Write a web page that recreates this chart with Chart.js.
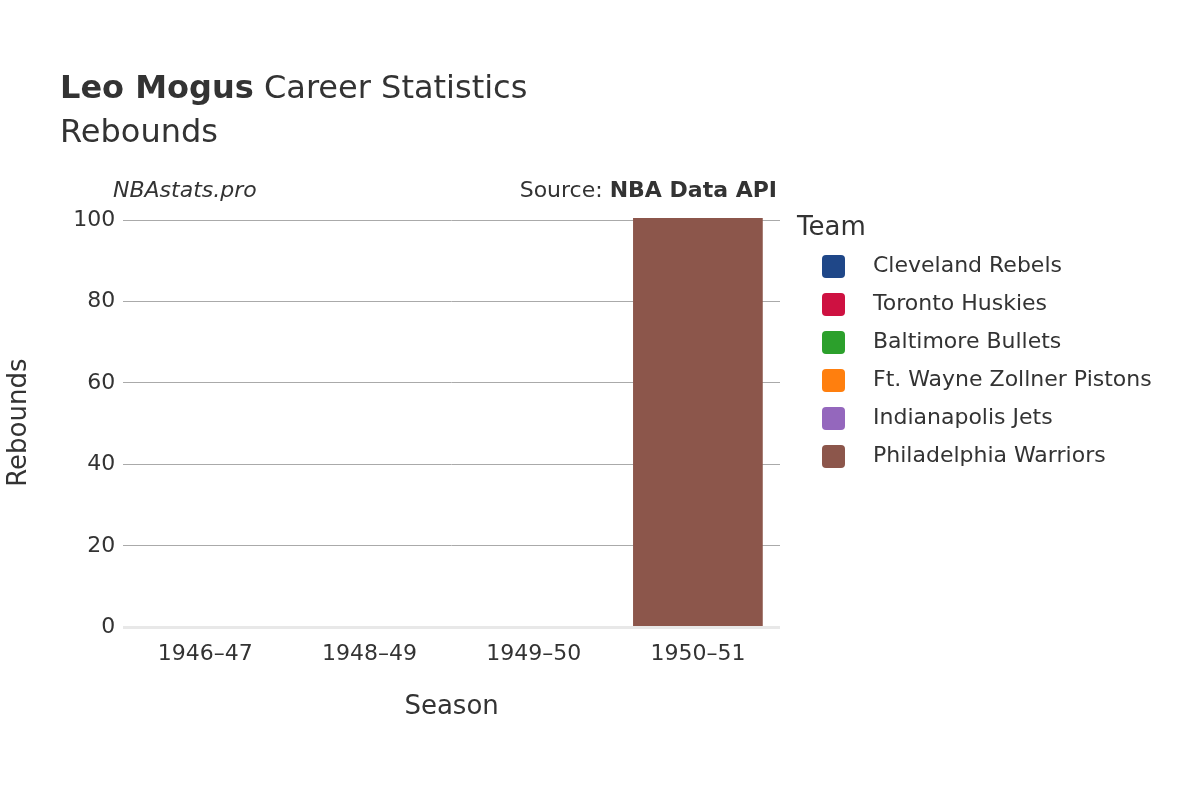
<!DOCTYPE html>
<html>
<head>
<meta charset="utf-8">
<script src="https://cdn.jsdelivr.net/npm/chart.js@4"></script>
<style>
  body { margin: 0; background: #fff; font-family: "DejaVu Sans", sans-serif; color: #333; }
  #wrap { position: relative; width: 1200px; height: 800px; }
  #chart { position: absolute; left: 0; top: 0; }
  .t { position: absolute; white-space: nowrap; }
  .leg { position: absolute; left: 822px; font-size: 22px; }
  .leg span { display: inline-block; width: 23px; height: 23px; border-radius: 4px; vertical-align: middle; margin-right: 28px; }
</style>
</head>
<body>
<div id="wrap">
  <canvas id="chart" width="1200" height="800"></canvas>
  <div class="t" style="left:60px;top:68px;font-size:32px"><b>Leo Mogus</b> Career Statistics</div>
  <div class="t" style="left:60px;top:112px;font-size:32px">Rebounds</div>
  <div class="t" style="left:113px;top:177px;font-size:22px;font-style:italic">NBAstats.pro</div>
  <div class="t" style="right:423px;top:177px;font-size:22px">Source: <b>NBA Data API</b></div>
  <div class="t" style="left:797px;top:211px;font-size:26px">Team</div>
  <div id="legend"></div>
</div>
<script>
const seasons = ['1946–47', '1948–49', '1949–50', '1950–51'];
const teams = ['Cleveland Rebels', 'Toronto Huskies', 'Baltimore Bullets', 'Ft. Wayne Zollner Pistons', 'Indianapolis Jets', 'Philadelphia Warriors'];
const colors = ['#1f4788', '#ce1141', '#2ca02c', '#ff7f0e', '#9467bd', '#8c564b'];
const rebounds = [
  [0, null, null, null],
  [0, null, null, null],
  [null, 0, null, null],
  [null, null, 0, null],
  [null, null, 0, null],
  [null, null, null, 102]
];

const legend = document.getElementById('legend');
teams.forEach((t, i) => {
  const d = document.createElement('div');
  d.className = 'leg';
  d.style.top = (252 + i * 38) + 'px';
  d.innerHTML = '<span style="background:' + colors[i] + '"></span>' + t;
  legend.appendChild(d);
});

new Chart(document.getElementById('chart'), {
  type: 'bar',
  data: {
    labels: seasons,
    datasets: teams.map((t, i) => ({
      label: t,
      data: rebounds[i],
      backgroundColor: colors[i],
      borderRadius: 4,
      barPercentage: 0.79,
      categoryPercentage: 1
    }))
  },
  options: {
    responsive: false,
    animation: false,
    layout: { padding: { left: 0, top: 218, right: 420, bottom: 73 } },
    plugins: { legend: { display: false }, tooltip: { enabled: false } },
    scales: {
      x: {
        stacked: true,
        grid: { display: false },
        border: { display: false },
        ticks: { font: { size: 22, family: 'DejaVu Sans' }, color: '#333', padding: 6 },
        title: { display: true, text: 'Season', font: { size: 26, family: 'DejaVu Sans' }, color: '#333', padding: { top: 18 } }
      },
      y: {
        stacked: true,
        min: 0, max: 100.5,
        afterBuildTicks: s => { s.ticks = [0, 20, 40, 60, 80, 100].map(v => ({ value: v })); },
        grid: { color: c => c.tick.value === 0 ? '#e8e8e8' : '#aaa', lineWidth: c => c.tick.value === 0 ? 3 : 1, drawTicks: false },
        border: { display: false },
        ticks: { font: { size: 22, family: 'DejaVu Sans' }, color: '#333', padding: 8 },
        title: { display: true, text: 'Rebounds', font: { size: 26, family: 'DejaVu Sans' }, color: '#333', padding: { bottom: 30 } }
      }
    }
  }
});
</script>
</body>
</html>
